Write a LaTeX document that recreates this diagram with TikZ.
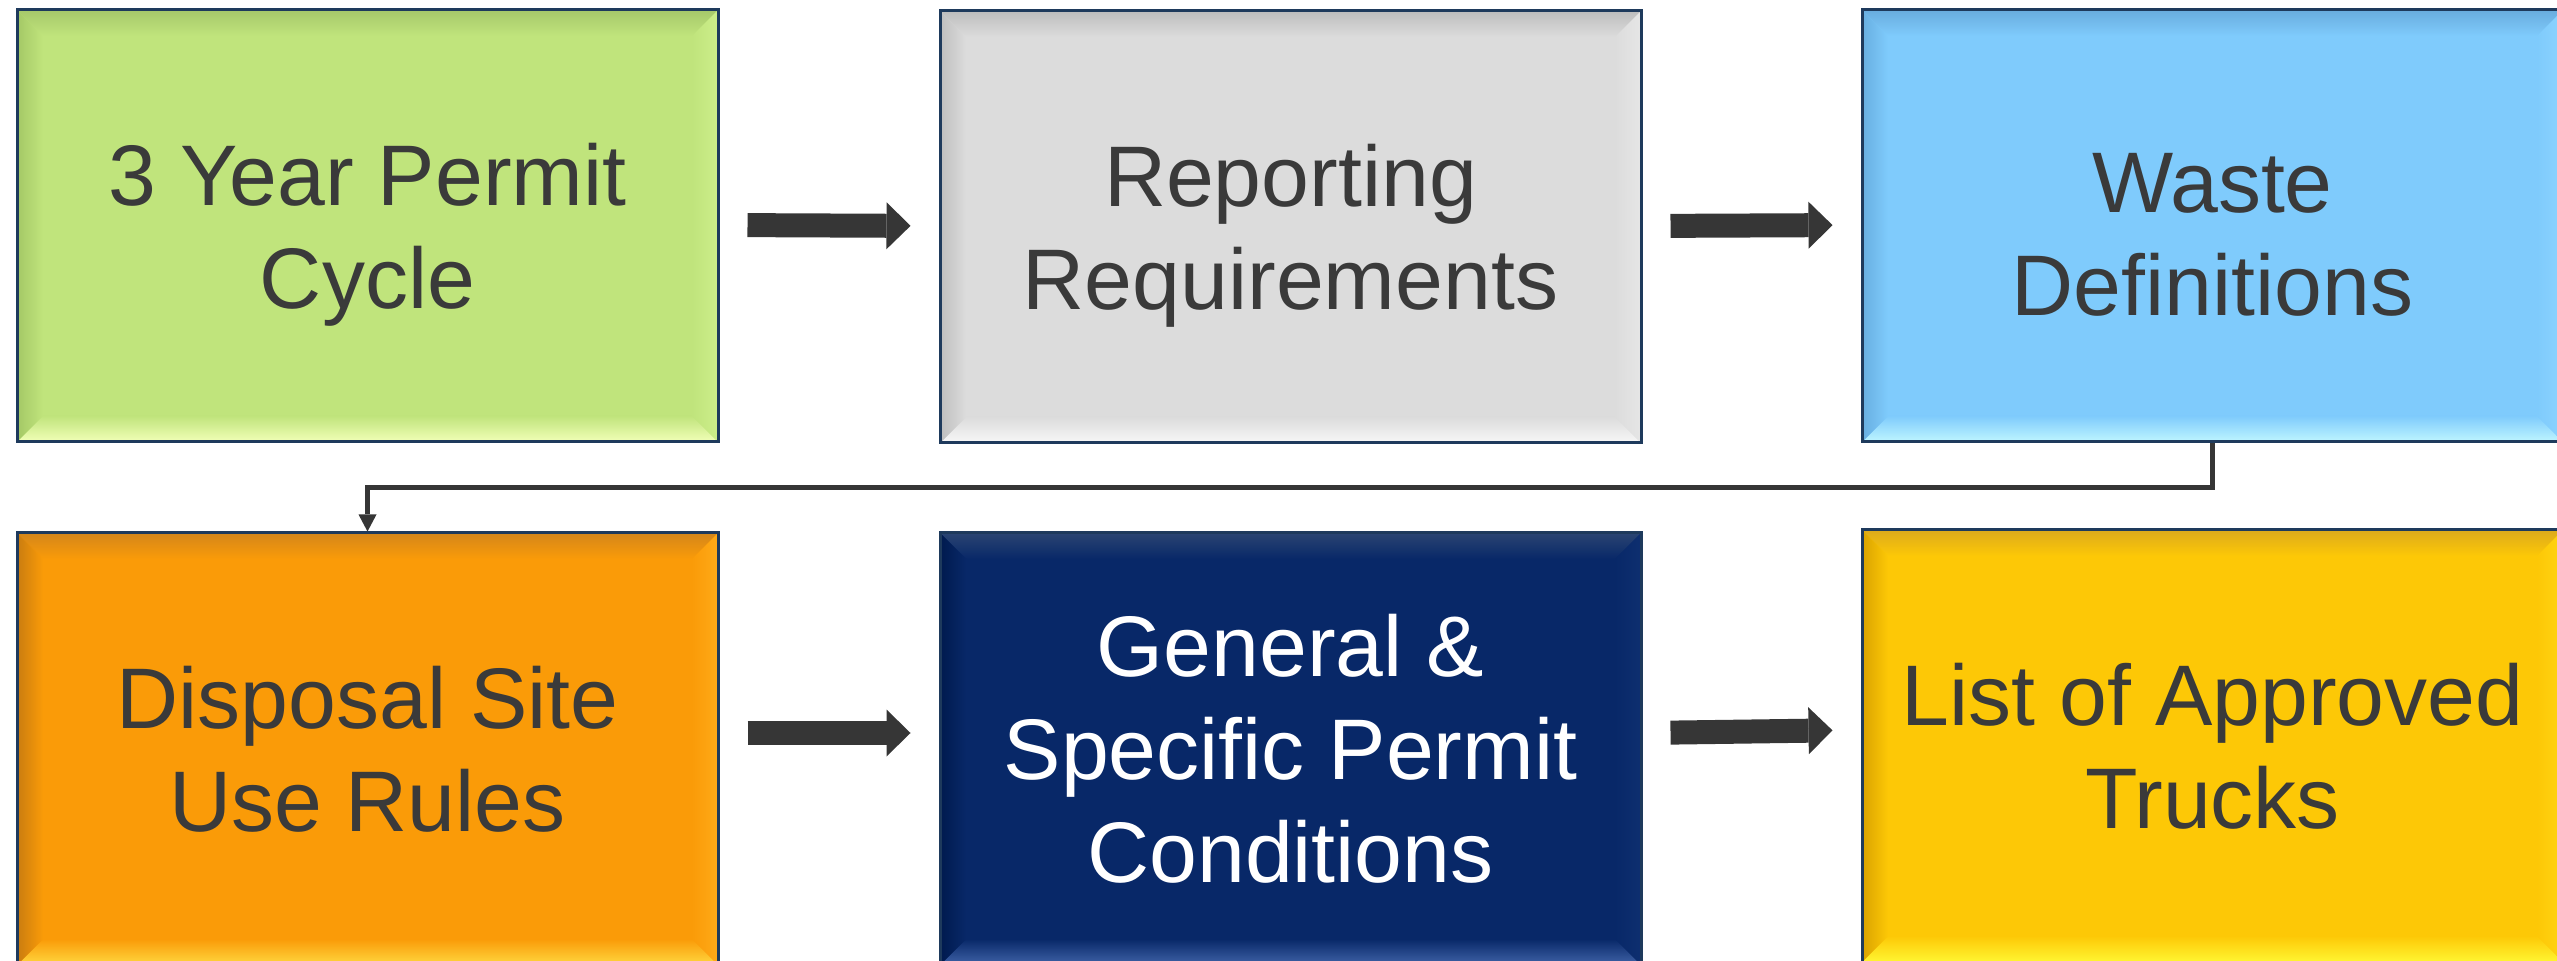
\documentclass[tikz,border=0pt]{standalone}
\usepackage{fontspec}
\setmainfont{Liberation Sans}
\usetikzlibrary{arrows.meta}
\definecolor{txtgrey}{HTML}{3A3A3A}
\definecolor{arrowdark}{HTML}{363636}
\definecolor{boxborder}{HTML}{1E3A5C}
% green
\definecolor{gBase}{HTML}{C0E47C}\definecolor{gTop}{HTML}{A6C86A}\definecolor{gBot}{HTML}{F2FFB8}\definecolor{gL}{HTML}{A4C866}\definecolor{gR}{HTML}{CDEE8A}
% grey
\definecolor{sBase}{HTML}{DCDCDC}\definecolor{sTop}{HTML}{BDBDBD}\definecolor{sBot}{HTML}{F7F7F7}\definecolor{sL}{HTML}{BEBEBE}\definecolor{sR}{HTML}{E6E6E6}
% blue
\definecolor{bBase}{HTML}{7FCBFC}\definecolor{bTop}{HTML}{68ACDE}\definecolor{bBot}{HTML}{BFF6FF}\definecolor{bL}{HTML}{67AEE0}\definecolor{bR}{HTML}{8CD3FF}
% orange
\definecolor{oBase}{HTML}{FA9B08}\definecolor{oTop}{HTML}{D4861A}\definecolor{oBot}{HTML}{FFD840}\definecolor{oL}{HTML}{C97C10}\definecolor{oR}{HTML}{FFAA18}
% navy
\definecolor{nBase}{HTML}{082868}\definecolor{nTop}{HTML}{2A4472}\definecolor{nBot}{HTML}{4063A8}\definecolor{nL}{HTML}{001A4E}\definecolor{nR}{HTML}{0E2F70}
% yellow
\definecolor{yBase}{HTML}{FDC806}\definecolor{yTop}{HTML}{DCAA1C}\definecolor{yBot}{HTML}{FFF632}\definecolor{yL}{HTML}{D9A200}\definecolor{yR}{HTML}{FFD414}
\newcommand\drawbevels[5]{%
  \coordinate (pnw) at (path picture bounding box.north west);
  \coordinate (pne) at (path picture bounding box.north east);
  \coordinate (psw) at (path picture bounding box.south west);
  \coordinate (pse) at (path picture bounding box.south east);
  \shade[top color=#1, bottom color=#5] (pnw) -- (pne) -- ([xshift=-13pt,yshift=-13pt]pne) -- ([xshift=13pt,yshift=-13pt]pnw) -- cycle;
  \shade[top color=#5, bottom color=#2] (psw) -- (pse) -- ([xshift=-13pt,yshift=13pt]pse) -- ([xshift=13pt,yshift=13pt]psw) -- cycle;
  \shade[left color=#3, right color=#5] (pnw) -- (psw) -- ([xshift=13pt,yshift=13pt]psw) -- ([xshift=13pt,yshift=-13pt]pnw) -- cycle;
  \shade[left color=#5, right color=#4] (pne) -- (pse) -- ([xshift=-13pt,yshift=13pt]pse) -- ([xshift=-13pt,yshift=-13pt]pne) -- cycle;
}
\tikzset{
  boxtext/.style={align=center, inner sep=0pt, font=\fontsize{43pt}{51.5pt}\selectfont},
  bevelbox/.style n args={6}{
    rectangle, draw=boxborder, line width=1.5pt, fill=#1,
    minimum width=350.5pt, minimum height=216pt, inner sep=0pt,
    boxtext, text=#6,
    path picture={\drawbevels{#2}{#3}{#4}{#5}{#1}}},
  lowtext/.style={label={[boxtext, text=txtgrey, yshift=-4.5pt]center:#1}},
  blockarrow/.style={draw=arrowdark, line width=12pt,
    -{Triangle[length=12pt,width=23.5pt,line width=0pt]},
    shorten <=14pt, shorten >=14pt},
  elbow/.style={draw=arrowdark, line width=2.5pt,
    -{Triangle[length=8.5pt,width=9pt,line width=0pt]}}
}
\begin{document}
\begin{tikzpicture}[x=0.5pt,y=-0.5pt]
  \useasboundingbox (0,0) rectangle (2557,961);
  \begin{scope}
  \clip (0,0) rectangle (2557,961);
  \node[bevelbox={gBase}{gTop}{gBot}{gL}{gR}{txtgrey}, lowtext={3 Year Permit\\Cycle}] (b1) at (367.5,226) {};
  \node[bevelbox={sBase}{sTop}{sBot}{sL}{sR}{txtgrey}, lowtext={Reporting\\Requirements}] (b2) at (1290.5,227) {};
  \node[bevelbox={bBase}{bTop}{bBot}{bL}{bR}{txtgrey}, lowtext={Waste\\Definitions}] (b3) at (2212.5,226) {};
  \node[bevelbox={oBase}{oTop}{oBot}{oL}{oR}{txtgrey}] (b4) at (367.5,749) {Disposal Site\\Use Rules};
  \node[bevelbox={nBase}{nTop}{nBot}{nL}{nR}{white}] (b5) at (1290.5,749) {General \&\\Specific Permit\\Conditions};
  \node[bevelbox={yBase}{yTop}{yBot}{yL}{yR}{txtgrey}] (b6) at (2212.5,746) {List of Approved\\Trucks};
  \end{scope}
  \draw[blockarrow] ([yshift=0.5pt]b1.east) -- ([yshift=0.5pt]b2.west);
  \draw[blockarrow] ([yshift=0.5pt]b2.east) -- ([yshift=0.5pt]b3.west);
  \draw[blockarrow] ([yshift=8pt]b4.east) -- ([yshift=8pt]b5.west);
  \draw[blockarrow] ([yshift=8pt]b5.east) -- ([yshift=8pt]b6.west);
  \draw[elbow] (b3.south) -- ++(0,44) -| (b4.north);
\end{tikzpicture}
\end{document}
